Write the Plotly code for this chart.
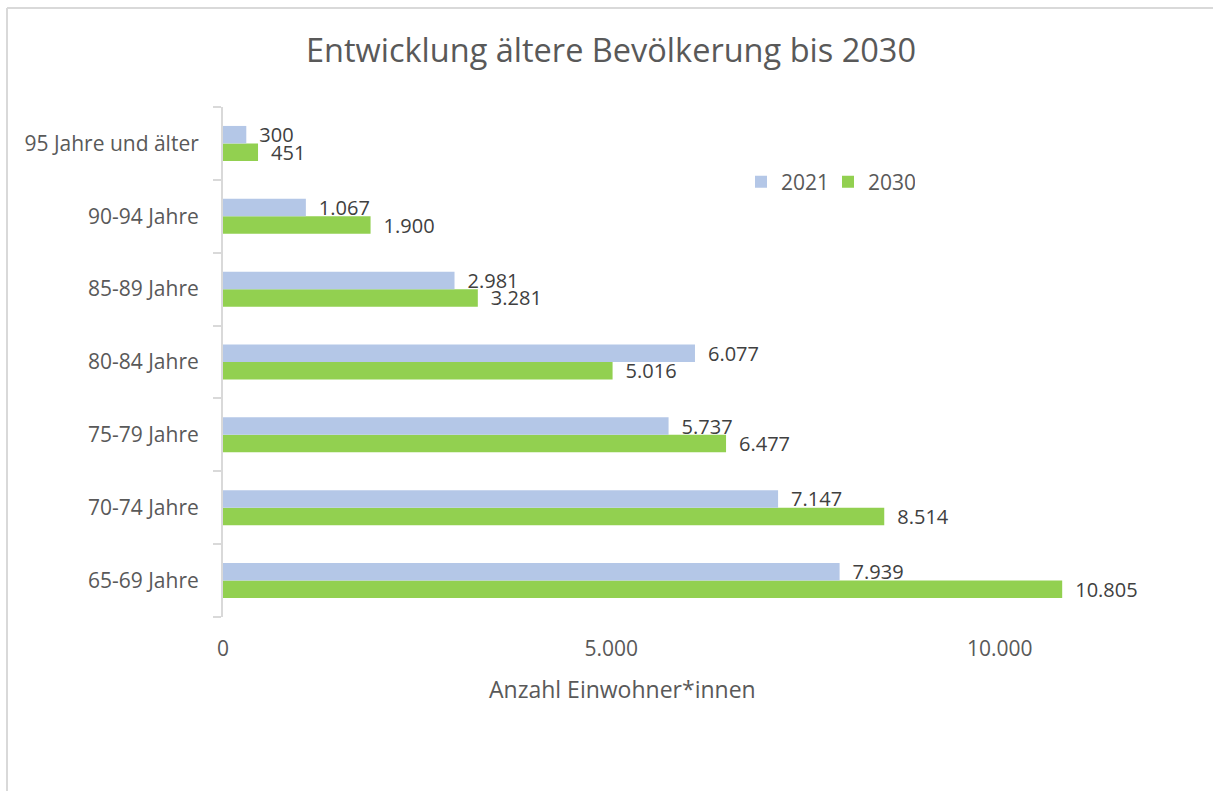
import plotly.graph_objects as go

categories = ["65-69 Jahre", "70-74 Jahre", "75-79 Jahre", "80-84 Jahre",
              "85-89 Jahre", "90-94 Jahre", "95 Jahre und älter"]
values_2021 = [7939, 7147, 5737, 6077, 2981, 1067, 300]
values_2030 = [10805, 8514, 6477, 5016, 3281, 1900, 451]
x_ticks = [0, 5000, 10000]

W, H = 1213, 791
L, R, T, B = 223, 58, 107, 174
PW, PH = W - L - R, H - T - B

def px(x):
    return (x - L) / PW

def py(y):
    return (H - B - y) / PH

FONT = "Open Sans"
GRAY = "#595959"
LABEL = "#404040"

fig = go.Figure()
fig.add_trace(go.Bar(
    y=categories, x=values_2030, name="2030", orientation="h",
    marker=dict(color="#92D050", line=dict(width=0)),
    text=values_2030, texttemplate="\u2002%{x:,}", textposition="outside",
    constraintext="none",
    textfont=dict(family=FONT, size=20, color=LABEL), cliponaxis=False,
    legendrank=2,
))
fig.add_trace(go.Bar(
    y=categories, x=values_2021, name="2021", orientation="h",
    marker=dict(color="#B4C7E7", line=dict(width=0)),
    text=values_2021, texttemplate="\u2002%{x:,}", textposition="outside",
    constraintext="none",
    textfont=dict(family=FONT, size=20, color=LABEL), cliponaxis=False,
    legendrank=1,
))

fig.update_layout(
    width=W, height=H,
    margin=dict(l=L, r=R, t=T, b=B, autoexpand=False),
    paper_bgcolor="white", plot_bgcolor="white",
    barmode="group", bargap=0.52, bargroupgap=0,
    separators=",.",
    font=dict(family=FONT, color=GRAY, size=20),
    title=dict(text="Entwicklung ältere Bevölkerung bis 2030",
               x=611 / W, xanchor="center", y=1 - 51 / H, yanchor="middle",
               font=dict(family=FONT, size=32.5, color=GRAY)),
    xaxis=dict(range=[0, 12000], tickvals=x_ticks, tickformat=",d",
               showgrid=False, zeroline=False, showline=False, ticks="",
               ticklabelstandoff=17,
               tickfont=dict(family=FONT, size=21, color=GRAY)),
    yaxis=dict(type="category", categoryorder="array", categoryarray=categories,
               showgrid=False, zeroline=False, showline=True,
               linecolor="#D9D9D9", linewidth=2,
               ticks="outside", ticklen=8, tickcolor="#D9D9D9", tickwidth=2,
               tickson="boundaries", ticklabelstandoff=18,
               tickfont=dict(family=FONT, size=21, color=GRAY)),
    legend=dict(orientation="h", x=px(741), xanchor="left",
                y=py(182), yanchor="middle", entrywidth=42,
                font=dict(family=FONT, size=21, color=GRAY),
                bgcolor="rgba(0,0,0,0)"),
    annotations=[dict(text="Anzahl Einwohner*innen", xref="paper", yref="paper",
                      x=px(622), y=py(689), xanchor="center", yanchor="middle",
                      showarrow=False, font=dict(family=FONT, size=23, color=GRAY))],
    shapes=[
        dict(type="line", xref="paper", yref="paper", x0=px(7), x1=px(1213),
             y0=py(8), y1=py(8), line=dict(color="#D9D9D9", width=2)),
        dict(type="line", xref="paper", yref="paper", x0=px(7), x1=px(7),
             y0=py(8), y1=py(791), line=dict(color="#D9D9D9", width=2)),
    ],
)

fig.write_html("out.html")
